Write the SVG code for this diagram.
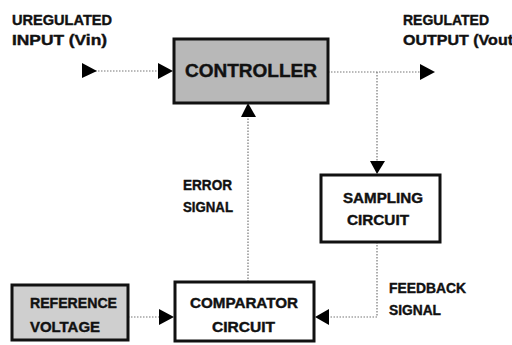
<svg xmlns="http://www.w3.org/2000/svg" width="512" height="345" viewBox="0 0 512 345">
<defs>
<style>
text{font-family:"Liberation Sans",Arial,sans-serif;font-weight:bold;font-size:14px;fill:#111;stroke:#111;stroke-width:0.4}
.box{stroke:#111;stroke-width:3}
.con{fill:none;stroke:#777;stroke-width:1.2;stroke-dasharray:1.5 1.5}
.head{fill:#000}
</style>
</defs>
<rect width="512" height="345" fill="#fff"/>
<g id="connectors">
<line class="con" x1="92" y1="71" x2="162" y2="71"/>
<polygon class="head" points="82,63 97,71 82,78"/>
<polygon class="head" points="158,63 173,71 158,79"/>
<line class="con" x1="328" y1="72" x2="424" y2="72"/>
<polygon class="head" points="420,64 435,72 420,80"/>
<line class="con" x1="377" y1="72" x2="377" y2="163"/>
<polygon class="head" points="370,161 377,174 385,161"/>
<line class="con" x1="248" y1="282" x2="248" y2="114"/>
<polygon class="head" points="241,117 248,103 256,117"/>
<line class="con" x1="377" y1="242" x2="377" y2="317"/>
<line class="con" x1="377" y1="317" x2="326" y2="317"/>
<polygon class="head" points="329,309 315,317 329,325"/>
<line class="con" x1="128" y1="317" x2="162" y2="317"/>
<polygon class="head" points="159,309 174,317 159,325"/>
</g>
<g id="input-label">
<text x="12" y="25" textLength="100" lengthAdjust="spacingAndGlyphs">UREGULATED</text>
<text x="12" y="45" textLength="95" lengthAdjust="spacingAndGlyphs">INPUT (Vin)</text>
</g>
<g id="output-label">
<text x="403" y="25" textLength="86" lengthAdjust="spacingAndGlyphs">REGULATED</text>
<text x="403" y="45" textLength="110" lengthAdjust="spacingAndGlyphs">OUTPUT (Vout</text>
</g>
<g id="controller">
<rect class="box" x="174" y="39" width="154" height="64" fill="#b8b8b8"/>
<text x="185" y="77" style="font-size:18px" textLength="132" lengthAdjust="spacingAndGlyphs">CONTROLLER</text>
</g>
<g id="error-label">
<text x="183" y="190" textLength="49" lengthAdjust="spacingAndGlyphs">ERROR</text>
<text x="183" y="212" textLength="50" lengthAdjust="spacingAndGlyphs">SIGNAL</text>
</g>
<g id="sampling">
<rect class="box" x="321" y="175" width="119" height="67" fill="#fff"/>
<text x="343" y="203" textLength="80" lengthAdjust="spacingAndGlyphs">SAMPLING</text>
<text x="347" y="225" textLength="62" lengthAdjust="spacingAndGlyphs">CIRCUIT</text>
</g>
<g id="feedback-label">
<text x="389" y="293" textLength="77" lengthAdjust="spacingAndGlyphs">FEEDBACK</text>
<text x="389" y="315" textLength="52" lengthAdjust="spacingAndGlyphs">SIGNAL</text>
</g>
<g id="reference">
<rect class="box" x="12" y="285" width="116" height="55" fill="#cfcfcf"/>
<text x="30" y="308" textLength="87" lengthAdjust="spacingAndGlyphs">REFERENCE</text>
<text x="30" y="332" textLength="70" lengthAdjust="spacingAndGlyphs">VOLTAGE</text>
</g>
<g id="comparator">
<rect class="box" x="175" y="282" width="139" height="59" fill="#fff"/>
<text x="190" y="308" textLength="108" lengthAdjust="spacingAndGlyphs">COMPARATOR</text>
<text x="212" y="332" textLength="63" lengthAdjust="spacingAndGlyphs">CIRCUIT</text>
</g>
</svg>
